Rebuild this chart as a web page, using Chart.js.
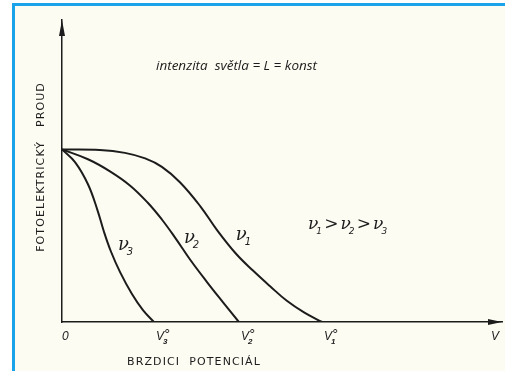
<!DOCTYPE html>
<html>
<head>
<meta charset="utf-8">
<script src="https://cdn.jsdelivr.net/npm/chart.js@4"></script>
<style>
  html, body { margin: 0; padding: 0; background: #ffffff; }
  .frame {
    position: absolute; left: 12px; top: 3px; right: 0; bottom: 0;
    border-left: 3px solid #1aa3e8; border-top: 3px solid #1aa3e8;
    background: #fdfcf3;
  }
  #chart { position: absolute; left: 0; top: 0; }
</style>
</head>
<body>
<div class="frame"></div>
<canvas id="chart" width="505" height="371"></canvas>
<script>
// Photocurrent vs. retarding potential, constant light intensity
const stopPotential = [5.91, 4.02, 2.09];   // V1°, V2°, V3°
const curveNames = ['1', '2', '3'];

const nu1V = [0, 0.86, 1.43, 1.89, 2.27, 2.68, 3.14, 3.52, 3.95, 4.34, 4.73, 5.11, 5.5, 5.91];
const nu1I = [1, 0.997, 0.98, 0.948, 0.899, 0.81, 0.672, 0.534, 0.397, 0.298, 0.207, 0.123, 0.056, 0];

const nu2V = [0, 0.59, 1.09, 1.55, 1.95, 2.27, 2.57, 2.91, 3.3, 3.66, 4.02];
const nu2I = [1, 0.943, 0.873, 0.79, 0.691, 0.594, 0.489, 0.362, 0.23, 0.114, 0];

const nu3V = [0, 0.3, 0.59, 0.8, 0.95, 1.11, 1.32, 1.59, 1.84, 2.09];
const nu3I = [1, 0.925, 0.798, 0.653, 0.526, 0.41, 0.289, 0.162, 0.069, 0];

const INK = '#1c1c1c';

function toPoints(xs, ys) {
    return xs.map((x, i) => ({ x: x, y: ys[i] }));
}

function curve(xs, ys) {
    return {
        data: toPoints(xs, ys),
        borderColor: INK,
        borderWidth: 2,
        pointRadius: 0,
        fill: false,
        tension: 0.4
    };
}

// italic nu with a subscript index
function drawNu(ctx, x, y, idx, size) {
    ctx.font = 'italic ' + size + 'px "DejaVu Serif", serif';
    ctx.textAlign = 'left';
    ctx.textBaseline = 'alphabetic';
    ctx.fillText('\u03bd', x, y);
    const w = ctx.measureText('\u03bd').width;
    ctx.font = 'italic ' + Math.round(size * 0.55) + 'px "DejaVu Sans", sans-serif';
    ctx.fillText(idx, x + w - 2, y + size * 0.28);
    return w + size * 0.35;
}

// V with ° and subscript index
function drawStopLabel(ctx, x, y, idx) {
    ctx.font = 'italic 12px "Liberation Sans", sans-serif';
    ctx.textAlign = 'left';
    ctx.textBaseline = 'alphabetic';
    ctx.fillText('V', x, y);
    ctx.font = '13px "DejaVu Sans", sans-serif';
    ctx.fillText('\u00b0', x + 8, y - 2);
    ctx.font = 'italic bold 8px "Liberation Sans", sans-serif';
    ctx.fillText(idx, x + 7, y + 4);
}

const annotations = {
    id: 'annotations',
    afterDraw(chart) {
        const ctx = chart.ctx;
        const xs = chart.scales.x;
        const ys = chart.scales.y;
        const area = chart.chartArea;
        ctx.save();
        ctx.fillStyle = INK;

        // arrow heads on both axes
        ctx.beginPath();
        ctx.moveTo(area.left, area.top);
        ctx.lineTo(area.left - 3, area.top + 16);
        ctx.lineTo(area.left + 3, area.top + 16);
        ctx.closePath();
        ctx.fill();
        ctx.beginPath();
        ctx.moveTo(area.right, area.bottom);
        ctx.lineTo(area.right - 14, area.bottom - 3);
        ctx.lineTo(area.right - 14, area.bottom + 3);
        ctx.closePath();
        ctx.fill();

        // heading
        ctx.font = 'italic 13.5px "Open Sans", sans-serif';
        ctx.textAlign = 'left';
        ctx.textBaseline = 'middle';
        ctx.fillText('intenzita  světla = L = konst', 156, 66);

        // axis titles
        ctx.font = '11px "DejaVu Sans", sans-serif';
        ctx.letterSpacing = '1.1px';
        ctx.textAlign = 'center';
        ctx.fillText('BRZDICI  POTENCIÁL', 194, 362);
        ctx.save();
        ctx.translate(41, 167);
        ctx.rotate(-Math.PI / 2);
        ctx.fillText('FOTOELEKTRICKÝ   PROUD', 0, 0);
        ctx.restore();
        ctx.letterSpacing = '0px';

        // tick labels on the potential axis
        const tickY = area.bottom + 18;
        ctx.font = 'italic 12px "Liberation Sans", sans-serif';
        ctx.textAlign = 'left';
        ctx.textBaseline = 'alphabetic';
        ctx.fillText('0', xs.getPixelForValue(0) + 0, tickY);
        stopPotential.forEach((v, i) => {
            drawStopLabel(ctx, xs.getPixelForValue(v) + 2, tickY, curveNames[i]);
        });
        ctx.font = 'italic 12px "Liberation Sans", sans-serif';
        ctx.fillText('V', xs.getPixelForValue(10) - 11, tickY);

        // curve names
        const spots = [[3.95, 0.474], [2.77, 0.457], [1.27, 0.42]];
        spots.forEach((p, i) => {
            drawNu(ctx, xs.getPixelForValue(p[0]), ys.getPixelForValue(p[1]), curveNames[i], 18);
        });

        // ordering of the frequencies
        let x = 308;
        const y = 229;
        curveNames.forEach((n, i) => {
            x += drawNu(ctx, x, y, n, 17);
            if (i < curveNames.length - 1) {
                ctx.font = '17px "DejaVu Serif", serif';
                ctx.fillText('>', x, y);
                x += ctx.measureText('>').width + 2;
            }
        });
        ctx.restore();
    }
};

new Chart(document.getElementById('chart'), {
    type: 'line',
    data: {
        datasets: [curve(nu1V, nu1I), curve(nu2V, nu2I), curve(nu3V, nu3I)]
    },
    options: {
        responsive: false,
        animation: false,
        layout: { padding: { left: 62, top: 20, right: 3, bottom: 49 } },
        plugins: { legend: { display: false }, tooltip: { enabled: false } },
        scales: {
            x: {
                type: 'linear', min: 0, max: 10,
                ticks: { display: false },
                grid: { display: false },
                border: { display: true, color: INK, width: 1.5 },
                afterFit: (scale) => { scale.height = 0; }
            },
            y: {
                type: 'linear', min: 0, max: 1.75,
                ticks: { display: false },
                grid: { display: false },
                border: { display: true, color: INK, width: 1.5 },
                afterFit: (scale) => { scale.width = 0; }
            }
        }
    },
    plugins: [annotations]
});
</script>
</body>
</html>
